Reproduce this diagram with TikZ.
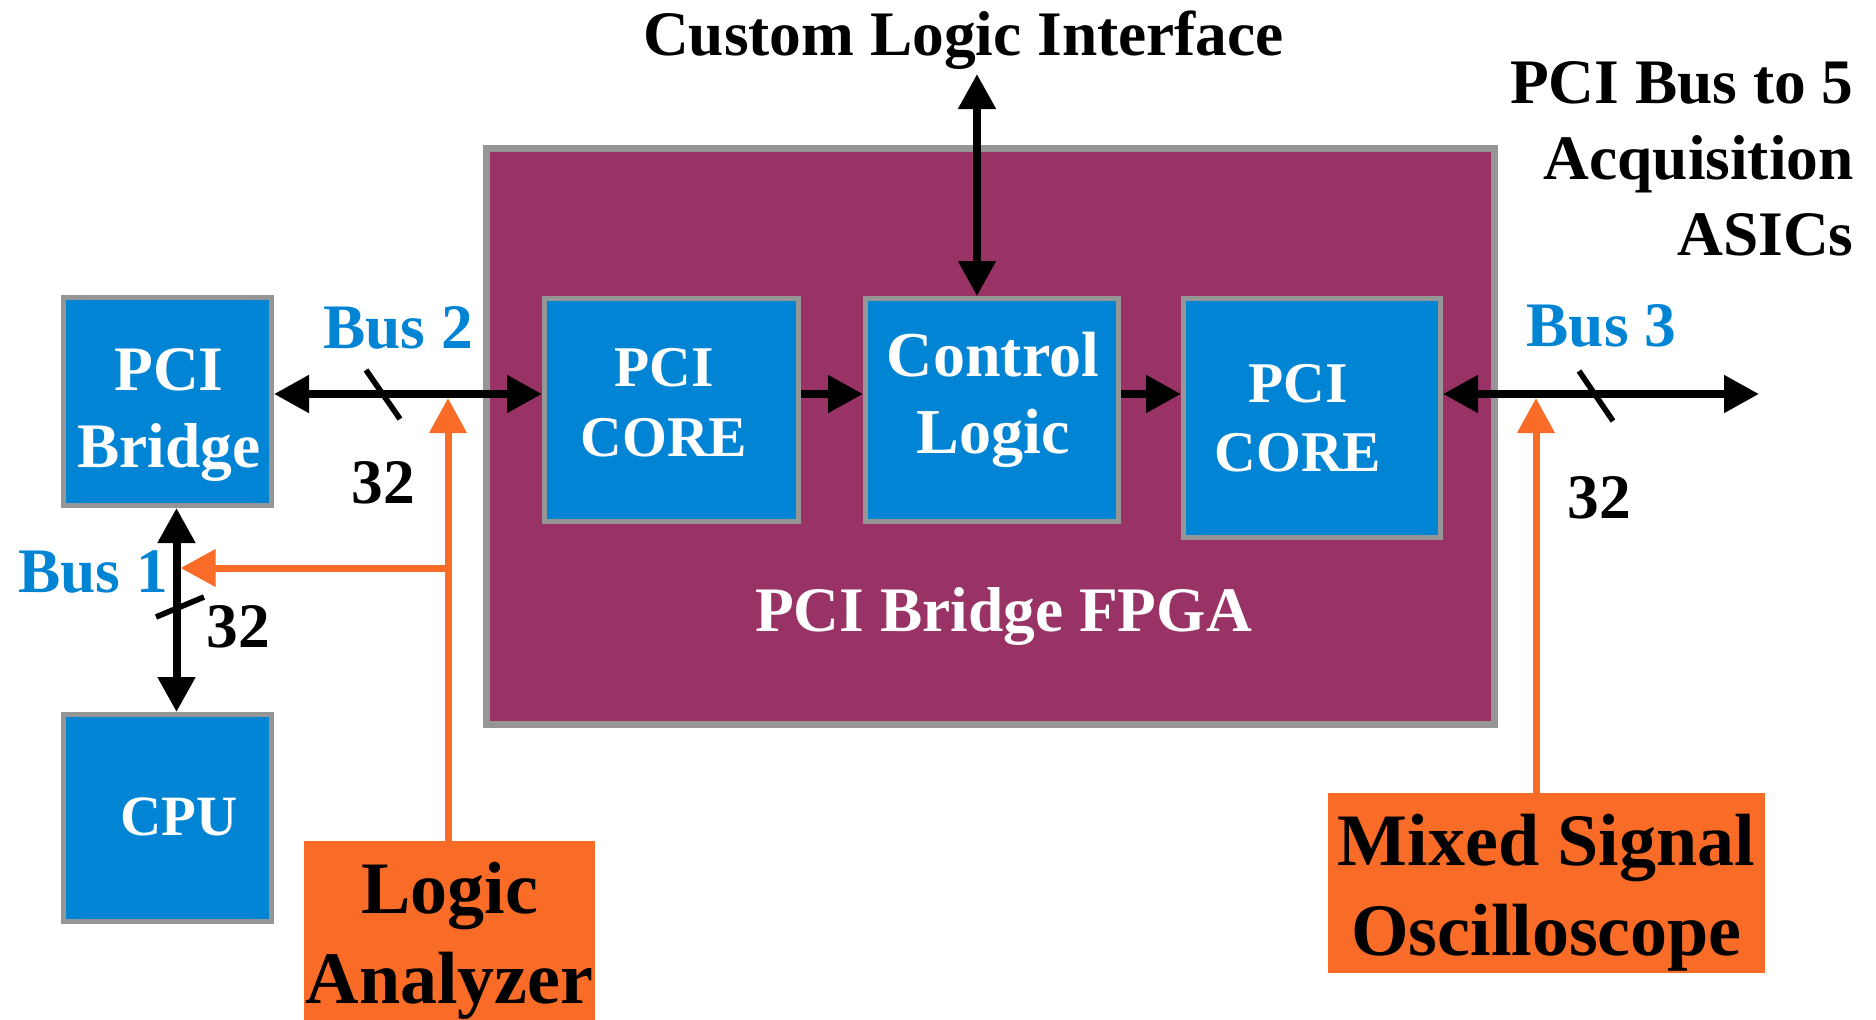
\documentclass[tikz,border=0pt]{standalone}
\usepackage{fontspec}
\setmainfont{Liberation Serif}
\usetikzlibrary{arrows.meta}
\definecolor{boxblue}{RGB}{2,132,212}
\definecolor{bordergray}{RGB}{150,150,150}
\definecolor{fpgapurple}{RGB}{153,51,102}
\definecolor{probeorange}{RGB}{248,108,39}
\tikzset{
  bt/.tip={Triangle[length=17.5pt,width=18pt]},
  blk/.style={draw=bordergray, line width=2.5pt, fill=boxblue, inner sep=0pt},
  probebox/.style={fill=probeorange, inner sep=0pt},
  bus/.style={line width=4pt, bt-bt},
  fwd/.style={line width=4pt, -bt},
  probe/.style={draw=probeorange, line width=3.5pt, -bt},
  slash/.style={line width=2.8pt},
  txt/.style={font=\bfseries\fontsize{31.7}{38}\selectfont, anchor=base, inner sep=0pt},
  wtxt/.style={txt, text=white},
  btxt/.style={txt, text=boxblue},
  bigtxt/.style={txt, font=\bfseries\fontsize{37}{45}\selectfont},
}
\begin{document}
\begin{tikzpicture}[x=0.5pt,y=-0.5pt]
\useasboundingbox (0,0) rectangle (1876,1019);
% FPGA
\node[draw=bordergray, line width=3.5pt, fill=fpgapurple, inner sep=0pt,
      minimum width=504pt, minimum height=288pt] (fpga) at (990.5,436.5) {};
% blocks
\node[blk, minimum width=104pt, minimum height=104pt] (bridge) at (167.5,401.5) {};
\node[blk, minimum width=104pt, minimum height=103.5pt] (cpu) at (167.5,818) {};
\node[blk, minimum width=127pt, minimum height=111.5pt] (core1) at (671.5,410) {};
\node[blk, minimum width=126.5pt, minimum height=111.5pt] (ctrl) at (992,410) {};
\node[blk, minimum width=128.5pt, minimum height=119.5pt] (core2) at (1312,418) {};
\node[probebox, minimum width=145.5pt, minimum height=91pt] (la) at (449.5,932) {};
\node[probebox, minimum width=218.5pt, minimum height=90pt] (osc) at (1546.5,883) {};
% coordinates
\coordinate (busy) at (0,394);
\coordinate (b1x) at (176.5,0);
\coordinate (cliend) at (977,74);
\coordinate (b3end) at (1759,394);
\coordinate (p1) at (448,398);
\coordinate (p2) at (451.5,568);
\coordinate (p2e) at (180.5,568);
\coordinate (p3) at (1536,398);
% buses
\draw[bus] (bridge.east |- busy) -- (core1.west |- busy);
\draw[fwd] (core1.east |- busy) -- (ctrl.west |- busy);
\draw[fwd] (ctrl.east |- busy) -- (core2.west |- busy);
\draw[bus] (core2.east |- busy) -- (b3end);
\draw[bus] (cliend) -- (ctrl.north -| cliend);
\draw[bus] (bridge.south -| b1x) -- (cpu.north -| b1x);
% probes
\draw[probe] (la.north -| p1) -- (p1);
\draw[probe] (p2) -- (p2e);
\draw[probe] (osc.north -| p3) -- (p3);
% bus width slashes
\draw[slash] (366,370) -- (400,419);
\draw[slash] (1579,371) -- (1613,421);
\draw[slash] (156,617) -- (204,597);
% texts
\node[wtxt] (tbridge1) at (169,390) {PCI};
\node[wtxt] (tbridge2) at (169,467) {Bridge};
\node[wtxt, font=\bfseries\fontsize{28.8}{35}\selectfont] (tcore1a) at (664,386) {PCI};
\node[wtxt, font=\bfseries\fontsize{28.8}{35}\selectfont] (tcore1b) at (664,456) {CORE};
\node[wtxt, font=\bfseries\fontsize{32}{38}\selectfont] (tctrl1) at (993,376) {Control};
\node[wtxt, font=\bfseries\fontsize{32}{38}\selectfont] (tctrl2) at (993,453) {Logic};
\node[wtxt, font=\bfseries\fontsize{28.8}{35}\selectfont] (tcore2a) at (1298,402) {PCI};
\node[wtxt, font=\bfseries\fontsize{28.8}{35}\selectfont] (tcore2b) at (1298,471) {CORE};
\node[wtxt, font=\bfseries\fontsize{28.5}{35}\selectfont] (tcpu) at (179,835) {CPU};
\node[wtxt] (tfpga) at (1003.5,631) {PCI Bridge FPGA};
\node[txt] (tcli) at (963.5,55) {Custom Logic Interface};
\node[txt, anchor=base east] (tasic1) at (1854,103) {PCI Bus to 5};
\node[txt, anchor=base east] (tasic2) at (1854,179) {Acquisition};
\node[txt, anchor=base east] (tasic3) at (1854,255) {ASICs};
\node[btxt] (tbus2) at (398,348) {Bus 2};
\node[btxt] (tbus3) at (1601.5,346) {Bus 3};
\node[btxt] (tbus1) at (93,592) {Bus 1};
\node[txt] (tw2) at (383,503) {32};
\node[txt] (tw1) at (238,647) {32};
\node[txt] (tw3) at (1599.5,518) {32};
\node[bigtxt] (tla1) at (449.5,913) {Logic};
\node[bigtxt] (tla2) at (449.5,1003) {Analyzer};
\node[bigtxt] (tosc1) at (1546.5,865) {Mixed Signal};
\node[bigtxt] (tosc2) at (1546.5,955) {Oscilloscope};
\end{tikzpicture}
\end{document}
